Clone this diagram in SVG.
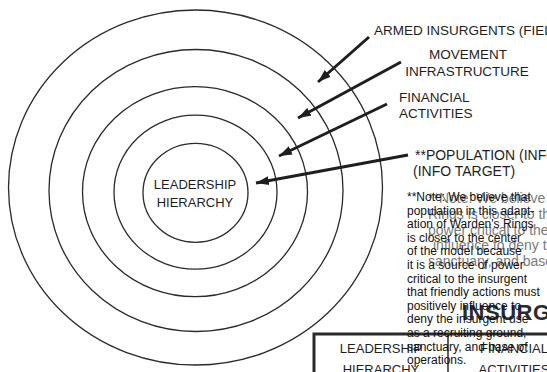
<svg xmlns="http://www.w3.org/2000/svg" width="547" height="372" viewBox="0 0 547 372">
<defs>
<style>
.ring{fill:none;stroke:#2a2a2a;stroke-width:1.3}
.arrow{fill:none;stroke:#1e1e1e;stroke-width:3;marker-end:url(#ah)}
.lbl{font-family:"Liberation Sans",Arial,sans-serif;font-size:13.5px;fill:#1e1e1e}
.big{font-size:14px}
.note{font-family:"Liberation Sans",Arial,sans-serif;font-size:12px;fill:#111}
.ghost{font-family:"Liberation Sans",Arial,sans-serif;font-size:14px;fill:#7a7a7a}
.title{font-family:"Liberation Sans",Arial,sans-serif;font-size:22px;font-weight:bold;letter-spacing:0.5px;fill:#2b2b2b}
.tbl{fill:none;stroke:#2a2a2a}
.mid{text-anchor:middle}
</style>
<marker id="ah" markerUnits="userSpaceOnUse" markerWidth="14" markerHeight="10" refX="13" refY="5" orient="auto">
<path d="M0,0.5 L13,5 L0,9.5 Z" fill="#1e1e1e"/>
</marker>
</defs>
<rect width="547" height="372" fill="#fff"/>

<g id="ring-armed"><ellipse class="ring" cx="195.5" cy="187.5" rx="187" ry="177.5"/></g>
<g id="ring-movement"><ellipse class="ring" cx="196" cy="190.5" rx="147" ry="141"/></g>
<g id="ring-financial"><ellipse class="ring" cx="195" cy="191.7" rx="112.5" ry="105"/></g>
<g id="ring-population"><ellipse class="ring" cx="195.5" cy="192.2" rx="81.5" ry="77"/></g>
<g id="ring-leadership"><ellipse class="ring" cx="195.5" cy="192.8" rx="52.5" ry="49.5"/>
<text class="lbl mid" x="195" y="189" style="font-size:13px">LEADERSHIP</text>
<text class="lbl mid" x="195" y="206.5" style="font-size:13px">HIERARCHY</text></g>

<g id="connectors">
<line class="arrow" x1="369" y1="37" x2="318" y2="82"/>
<line class="arrow" x1="401" y1="62" x2="298" y2="118"/>
<line class="arrow" x1="387" y1="104" x2="279" y2="156"/>
<line class="arrow" x1="408" y1="155" x2="256" y2="183"/>
</g>

<g id="label-armed"><text class="lbl" x="374" y="35">ARMED INSURGENTS (FIEL</text></g>
<g id="label-movement">
<text class="lbl mid" x="468" y="59">MOVEMENT</text>
<text class="lbl mid" x="467" y="76">INFRASTRUCTURE</text></g>
<g id="label-financial">
<text class="lbl" x="399" y="102">FINANCIAL</text>
<text class="lbl" x="399" y="117.5">ACTIVITIES</text></g>
<g id="label-population">
<text class="lbl big" x="415" y="160">**POPULATION (INFO</text>
<text class="lbl big" x="413" y="176">(INFO TARGET)</text></g>

<g id="title"><text class="title" x="462" y="320">INSURG</text></g>

<g id="table">
<path class="tbl" d="M314,372 V334 H547" stroke-width="3"/>
<line class="tbl" x1="448" y1="334" x2="448" y2="372" stroke-width="1.5"/>
<text class="lbl mid" x="381" y="353" style="font-size:13px">LEADERSHIP</text>
<text class="lbl mid" x="381" y="374" style="font-size:13px">HIERARCHY</text>
<text class="lbl mid" x="514" y="353" style="font-size:13px">FINANCIAL</text>
<text class="lbl mid" x="514" y="374" style="font-size:13px">ACTIVITIES</text>
</g>

<g id="ghost-note">
<text class="ghost" x="428" y="203">**Note: We believe the</text>
<text class="ghost" x="428" y="219">Rings is closer to the</text>
<text class="ghost" x="428" y="235">power critical to the</text>
<text class="ghost" x="433" y="250">influence to deny the</text>
<text class="ghost" x="428" y="266">sanctuary, and base</text>
</g>

<g id="note">
<text class="note" x="407" y="201">**Note: We believe that</text>
<text class="note" x="407" y="214.6">population in this adapt-</text>
<text class="note" x="407" y="228.2">ation of Warden's Rings</text>
<text class="note" x="407" y="241.8">is closer to the center</text>
<text class="note" x="407" y="255.4">of the model because</text>
<text class="note" x="407" y="269">it is a source of power</text>
<text class="note" x="407" y="282.6">critical to the insurgent</text>
<text class="note" x="407" y="296.2">that friendly actions must</text>
<text class="note" x="407" y="309.8">positively influence to</text>
<text class="note" x="407" y="323.4">deny the insurgent use</text>
<text class="note" x="407" y="337">as a recruiting ground,</text>
<text class="note" x="407" y="350.6">sanctuary, and base of</text>
<text class="note" x="407" y="364.2">operations.</text>
</g>
</svg>
